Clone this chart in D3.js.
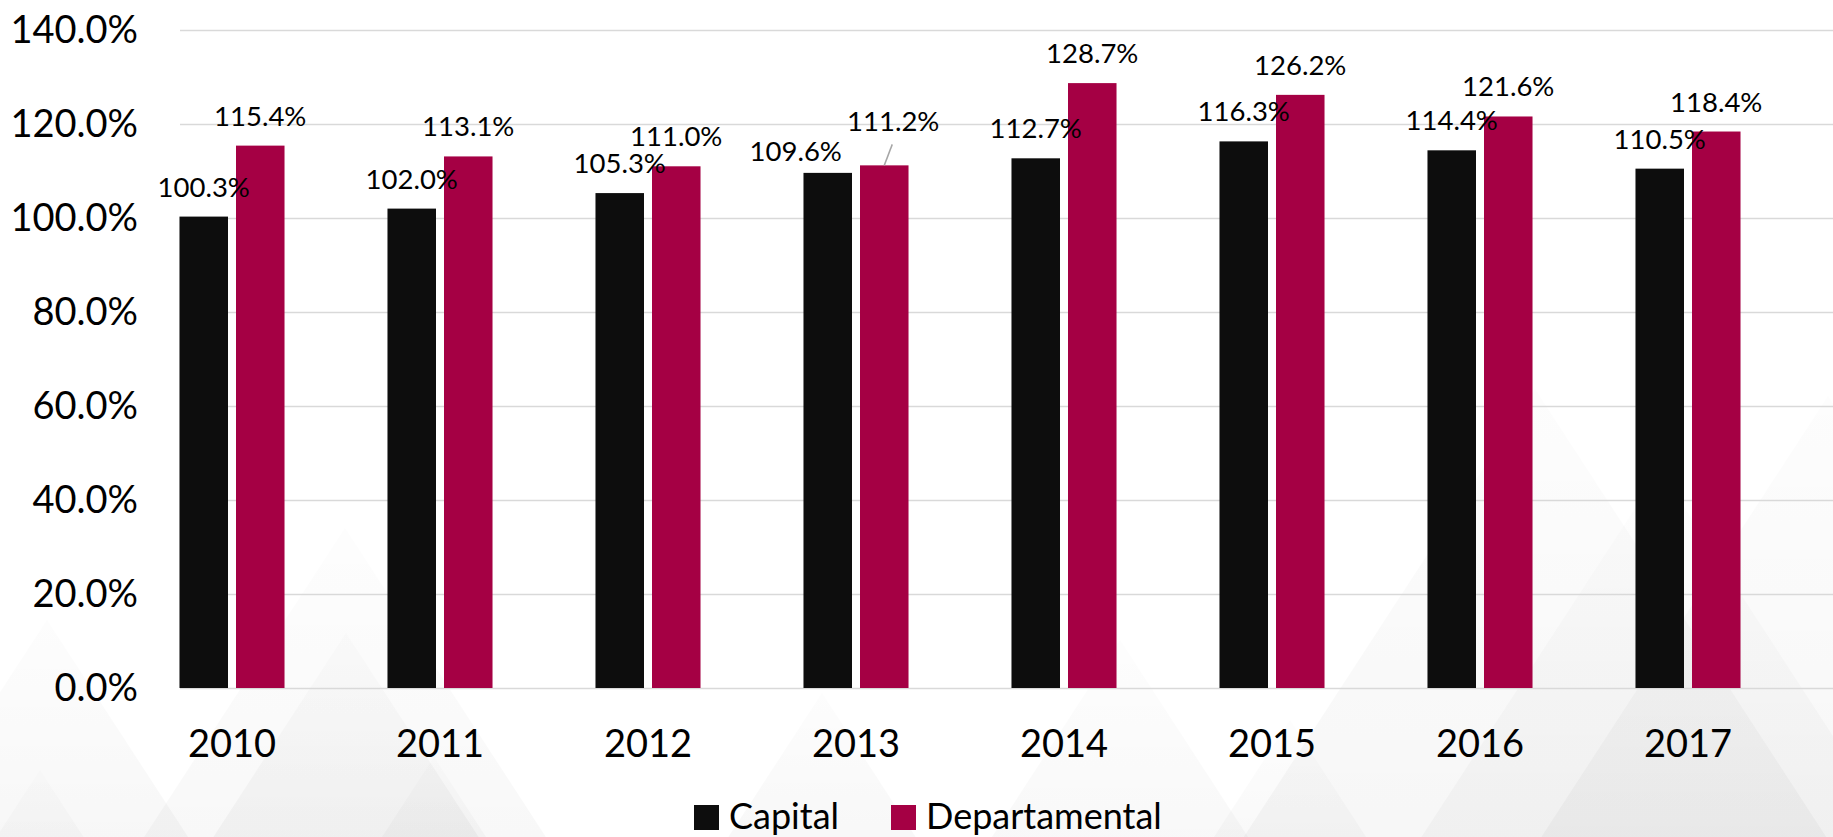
<!DOCTYPE html>
<html>
<head>
<meta charset="utf-8">
<script src="https://cdn.jsdelivr.net/npm/d3@7"></script>
<style>
  html, body { margin: 0; padding: 0; background: #ffffff; }
  svg { display: block; }
  text { font-family: Lato, "Open Sans", sans-serif; fill: #000; }
</style>
</head>
<body>
<svg id="chart" width="1833" height="837"></svg>
<script>
// ---- data ----
const years = ["2010", "2011", "2012", "2013", "2014", "2015", "2016", "2017"];
const seriesNames = ["Capital", "Departamental"];
const capital = [100.3, 102.0, 105.3, 109.6, 112.7, 116.3, 114.4, 110.5];
const departamental = [115.4, 113.1, 111.0, 111.2, 128.7, 126.2, 121.6, 118.4];
const yTicks = [0, 20, 40, 60, 80, 100, 120, 140];

// ---- layout / style ----
const W = 1833, H = 837;
const plot = { left: 180, right: 1833, top: 30, bottom: 688 };
const colors = { Capital: "#0d0d0d", Departamental: "#a50044" };

const svg = d3.select("#chart");

// subtle background triangles
const defs = svg.append("defs");
const grad = defs.append("linearGradient").attr("id", "tri").attr("x1", 0).attr("y1", 0).attr("x2", 0).attr("y2", 1);
grad.append("stop").attr("offset", "0%").attr("stop-color", "#000").attr("stop-opacity", 0.25);
grad.append("stop").attr("offset", "100%").attr("stop-color", "#000").attr("stop-opacity", 1);

const bgPeaks = [
  [345, 528, 0.03], [47, 620, 0.035], [346, 633, 0.04], [822, 693, 0.035],
  [434, 757, 0.035], [1535, 389, 0.035], [1828, 396, 0.035], [1660, 470, 0.03],
  [1120, 640, 0.03], [40, 770, 0.03], [1290, 720, 0.03]
];
const bg = svg.append("g");
bgPeaks.forEach(([px, py, op]) => {
  const drop = H + 40 - py, half = drop * 0.65;
  bg.append("path")
    .attr("d", `M${px},${py}L${px + half},${H + 40}L${px - half},${H + 40}Z`)
    .attr("fill", "url(#tri)").attr("opacity", op);
});

const y = d3.scaleLinear().domain([0, 140]).range([plot.bottom, plot.top]);
const x0 = d3.scaleBand().domain(years).range([128, 1792]).paddingInner(0.495).paddingOuter(0.2475);
const x1 = d3.scaleBand().domain(seriesNames).range([0, x0.bandwidth()]).paddingInner(8 / 56.5);

// gridlines
const grid = svg.append("g")
  .attr("transform", `translate(${plot.left},0)`)
  .call(d3.axisLeft(y).tickValues(yTicks).tickSize(-(plot.right - plot.left)).tickFormat(""));
grid.select(".domain").remove();
grid.selectAll("line").attr("stroke", "#d9d9d9").attr("stroke-width", 1.6);

// y axis labels
const yAxis = svg.append("g")
  .attr("transform", `translate(${plot.left},0)`)
  .call(d3.axisLeft(y).tickValues(yTicks).tickSize(0).tickPadding(42)
    .tickFormat(d => d.toFixed(1) + "%"));
yAxis.select(".domain").remove();
yAxis.selectAll("text").attr("font-size", 38).attr("font-family", "Lato").attr("fill", "#000");

// x axis labels
const xAxis = svg.append("g")
  .attr("transform", `translate(0,${plot.bottom})`)
  .call(d3.axisBottom(x0).tickSize(0).tickPadding(42));
xAxis.select(".domain").remove();
xAxis.selectAll("text").attr("font-size", 38).attr("font-family", "Lato").attr("fill", "#000");

// bars
const rows = years.map((yr, i) => ({
  year: yr,
  vals: [{ key: "Capital", v: capital[i] }, { key: "Departamental", v: departamental[i] }]
}));
const groups = svg.append("g").selectAll("g").data(rows).join("g")
  .attr("transform", d => `translate(${x0(d.year)},0)`);
groups.selectAll("rect").data(d => d.vals).join("rect")
  .attr("x", d => x1(d.key))
  .attr("width", x1.bandwidth())
  .attr("y", d => y(d.v))
  .attr("height", d => y(0) - y(d.v))
  .attr("fill", d => colors[d.key]);

// data labels (two manually moved labels, one with a leader line)
const labelNudge = {
  "2013|Capital": { dx: -32, dy: 8, leader: false },
  "2013|Departamental": { dx: 9, dy: -14, leader: true }
};
const labels = svg.append("g");
rows.forEach(r => {
  r.vals.forEach(d => {
    const cx = x0(r.year) + x1(d.key) + x1.bandwidth() / 2;
    const top = y(d.v);
    const n = labelNudge[r.year + "|" + d.key] || { dx: 0, dy: 0, leader: false };
    const tx = cx + n.dx, ty = top - 20 + n.dy;
    if (n.leader) {
      labels.append("line")
        .attr("x1", tx - 1).attr("y1", ty + 13)
        .attr("x2", cx).attr("y2", top)
        .attr("stroke", "#a6a6a6").attr("stroke-width", 1.5);
    }
    labels.append("text")
      .attr("x", tx).attr("y", ty)
      .attr("text-anchor", "middle")
      .attr("font-size", 27.5)
      .text(d.v.toFixed(1) + "%");
  });
});

// legend
const legend = svg.append("g");
const legendItems = [
  { key: "Capital", sx: 694, tx: 729 },
  { key: "Departamental", sx: 891, tx: 926 }
];
legendItems.forEach(it => {
  legend.append("rect").attr("x", it.sx).attr("y", 805).attr("width", 25).attr("height", 25)
    .attr("fill", colors[it.key]);
  legend.append("text").attr("x", it.tx).attr("y", 829).attr("font-size", 36).text(it.key);
});
</script>
</body>
</html>
